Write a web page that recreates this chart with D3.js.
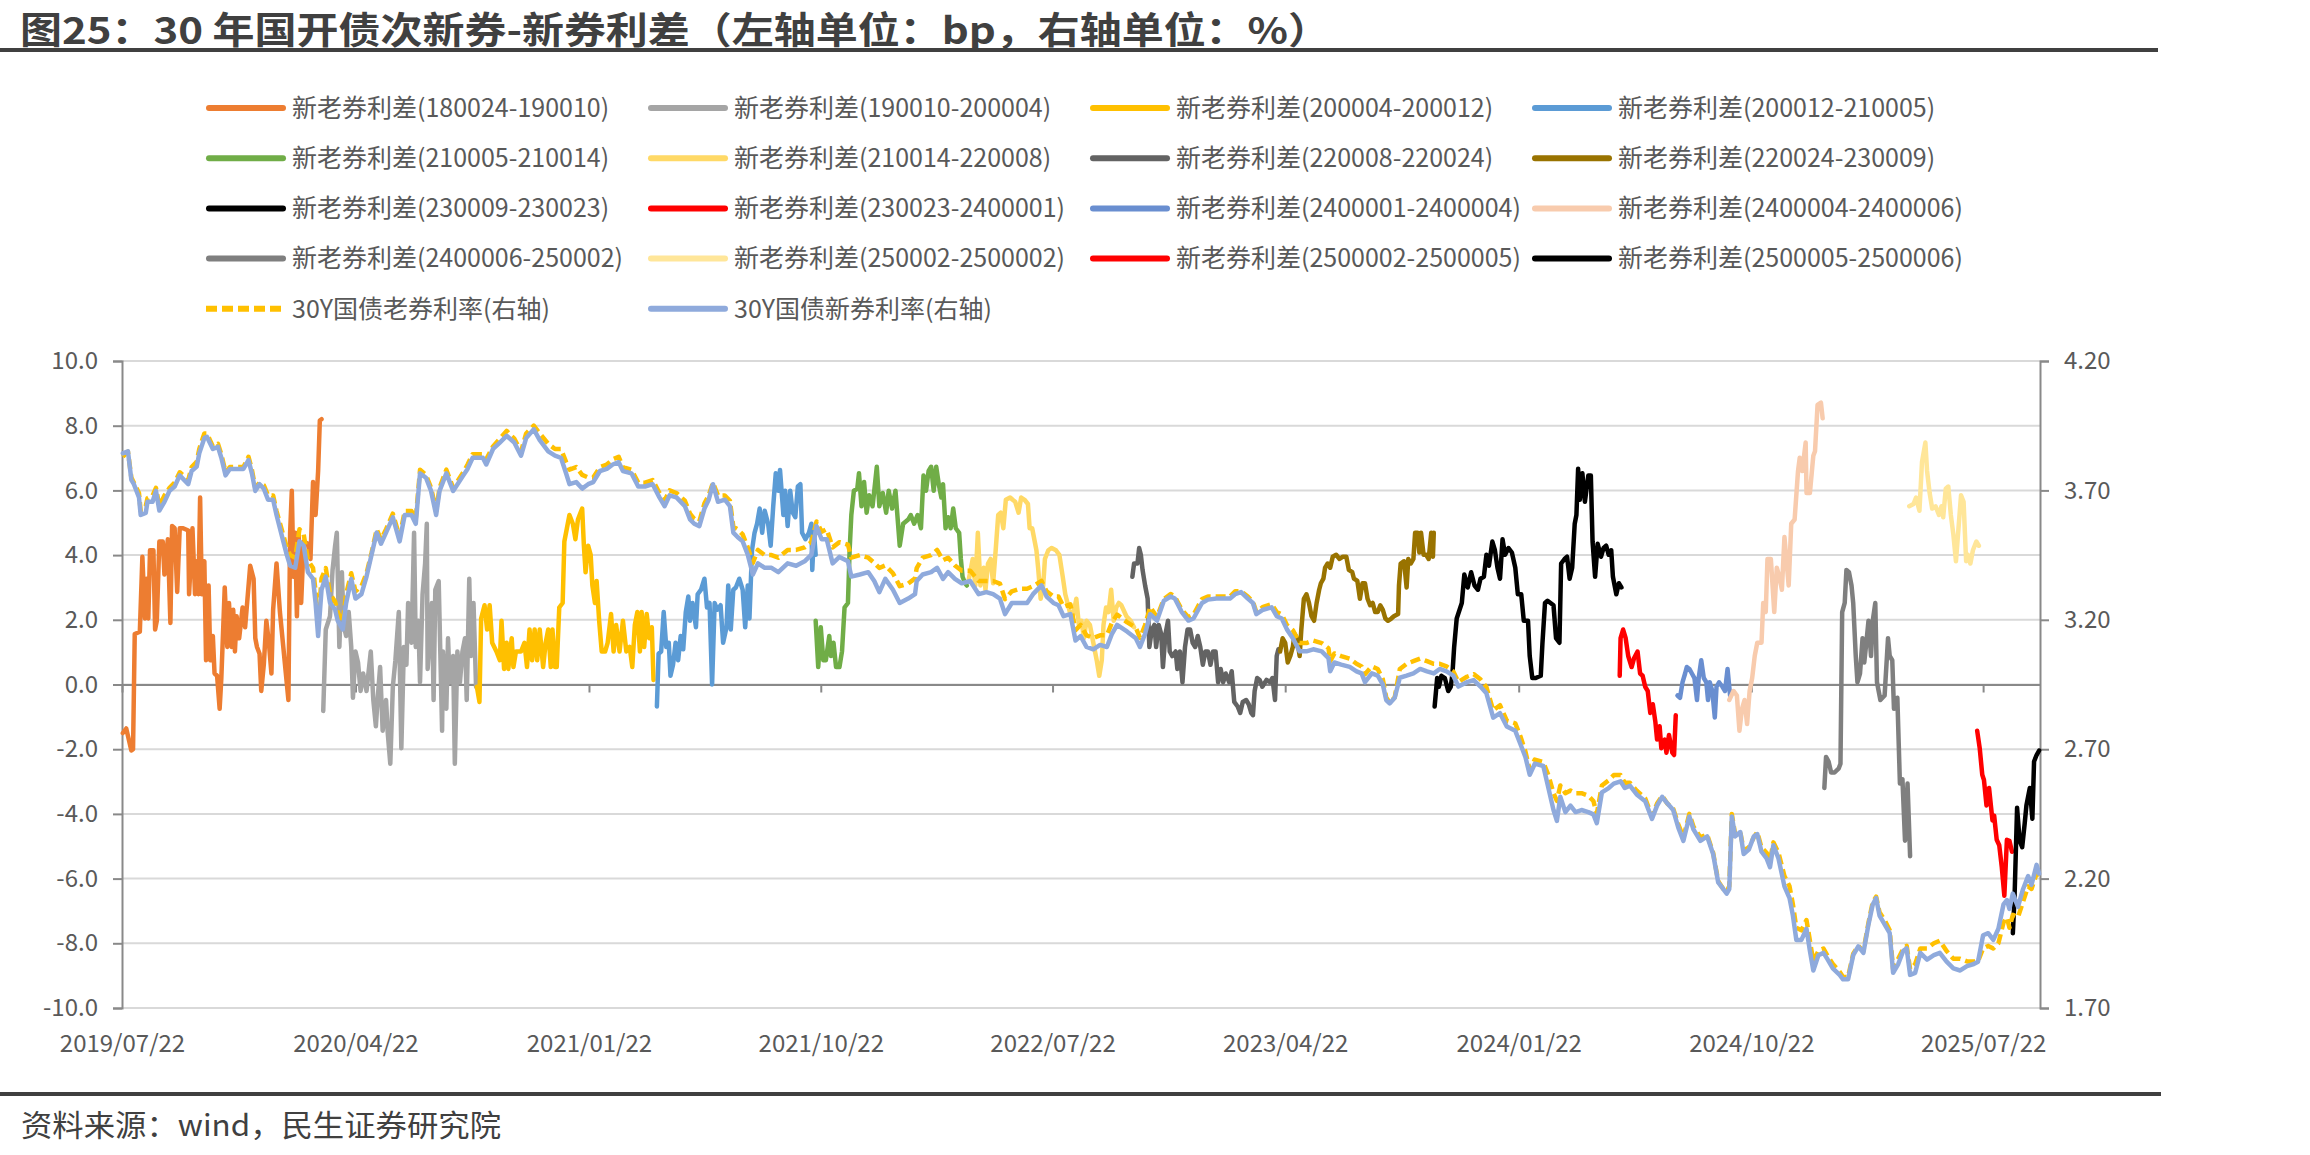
<!DOCTYPE html>
<html>
<head>
<meta charset="utf-8">
<script src="https://cdn.jsdelivr.net/npm/d3@7"></script>
<style>
  body { margin: 0; background: #fff; }
  text { font-family: "Noto Sans CJK SC", "Noto Sans", sans-serif; }
</style>
</head>
<body>
<svg id="chart" width="2310" height="1155"></svg>
<script>
// ---- data (left axis: bp, right axis: %) ----
const spread180024 = [['2019-07-23',-1.50],['2019-07-27',-1.36],['2019-08-02',-2.04],['2019-08-04',-2.00],['2019-08-06',1.56],['2019-08-12',1.63],['2019-08-15',3.95],['2019-08-18',2.04],['2019-08-20',3.27],['2019-08-22',2.04],['2019-08-24',4.15],['2019-08-28',4.15],['2019-08-30',1.70],['2019-09-01',1.97],['2019-09-04',4.42],['2019-09-08',4.42],['2019-09-10',3.40],['2019-09-14',4.49],['2019-09-17',1.90],['2019-09-19',4.90],['2019-09-22',4.83],['2019-09-25',2.86],['2019-09-28',4.83],['2019-10-02',4.83],['2019-10-08',4.76],['2019-10-09',2.79],['2019-10-13',4.83],['2019-10-16',2.79],['2019-10-18',3.81],['2019-10-20',2.79],['2019-10-22',5.78],['2019-10-24',2.79],['2019-10-27',3.81],['2019-10-29',0.75],['2019-11-01',3.06],['2019-11-03',0.75],['2019-11-06',1.50],['2019-11-08',0.34],['2019-11-11',0.27],['2019-11-14',-0.75],['2019-11-16',0.20],['2019-11-20',3.00],['2019-11-23',1.16],['2019-11-25',2.52],['2019-11-28',1.16],['2019-11-30',2.31],['2019-12-02',1.02],['2019-12-04',2.11],['2019-12-07',1.43],['2019-12-11',2.38],['2019-12-14',1.77],['2019-12-20',3.67],['2019-12-24',3.27],['2019-12-26',1.43],['2019-12-28',1.16],['2019-12-31',0.95],['2020-01-02',-0.20],['2020-01-05',0.61],['2020-01-08',1.97],['2020-01-11',1.29],['2020-01-14',0.34],['2020-01-16',2.31],['2020-01-20',3.74],['2020-01-24',2.24],['2020-02-03',-0.48],['2020-02-05',4.69],['2020-02-07',5.99],['2020-02-09',3.33],['2020-02-11',4.69],['2020-02-13',2.11],['2020-02-15',4.69],['2020-02-18',2.52],['2020-02-21',4.42],['2020-02-26',4.35],['2020-02-29',3.88],['2020-03-03',6.26],['2020-03-06',5.24],['2020-03-09',6.60],['2020-03-11',8.16],['2020-03-13',8.20]];

const spread190010 = [['2020-03-15',-0.82],['2020-03-18',1.70],['2020-03-23',2.11],['2020-03-26',3.54],['2020-03-29',4.29],['2020-03-31',4.69],['2020-04-03',1.16],['2020-04-06',3.47],['2020-04-08',1.84],['2020-04-11',1.50],['2020-04-14',2.24],['2020-04-17',1.16],['2020-04-19',-0.41],['2020-04-22',1.02],['2020-04-25',0.68],['2020-04-28',-0.20],['2020-05-01',0.34],['2020-05-05',-0.20],['2020-05-10',1.02],['2020-05-13',-0.48],['2020-05-16',-1.29],['2020-05-18',-0.48],['2020-05-21',0.54],['2020-05-24',-1.43],['2020-05-28',-0.48],['2020-05-30',-1.50],['2020-06-02',-2.45],['2020-06-05',-0.07],['2020-06-08',0.75],['2020-06-12',2.24],['2020-06-15',-1.97],['2020-06-18',1.16],['2020-06-21',0.61],['2020-06-23',2.52],['2020-06-27',1.29],['2020-06-30',4.69],['2020-07-02',1.16],['2020-07-05',1.97],['2020-07-07',0.07],['2020-07-10',2.79],['2020-07-13',3.74],['2020-07-15',4.97],['2020-07-16',0.48],['2020-07-21',2.52],['2020-07-23',-0.48],['2020-07-25',2.93],['2020-07-29',3.20],['2020-08-02',-1.43],['2020-08-03',1.02],['2020-08-07',-0.75],['2020-08-09',1.43],['2020-08-11',0.07],['2020-08-15',0.88],['2020-08-17',-2.45],['2020-08-20',1.02],['2020-08-23',0.07],['2020-08-26',1.02],['2020-08-29',1.43],['2020-08-31',-0.48],['2020-09-03',3.27],['2020-09-05',0.88],['2020-09-08',2.52],['2020-09-11',-0.07]];

const spread200004 = [['2020-09-12',-0.07],['2020-09-15',-0.54],['2020-09-17',2.04],['2020-09-21',2.45],['2020-09-24',1.70],['2020-09-27',2.45],['2020-09-30',1.29],['2020-10-05',1.02],['2020-10-09',0.75],['2020-10-11',1.97],['2020-10-14',0.48],['2020-10-17',1.29],['2020-10-19',0.48],['2020-10-23',1.43],['2020-10-25',0.54],['2020-10-28',1.02],['2020-11-03',1.02],['2020-11-07',1.29],['2020-11-10',0.54],['2020-11-13',1.70],['2020-11-16',0.75],['2020-11-19',1.70],['2020-11-22',0.75],['2020-11-25',1.70],['2020-11-29',0.54],['2020-12-02',1.29],['2020-12-05',1.70],['2020-12-08',0.54],['2020-12-10',1.70],['2020-12-13',0.54],['2020-12-15',0.54],['2020-12-18',2.38],['2020-12-22',2.52],['2020-12-24',4.42],['2020-12-27',4.83],['2020-12-30',5.24],['2021-01-03',4.97],['2021-01-06',4.49],['2021-01-09',5.10],['2021-01-12',5.31],['2021-01-14',5.44],['2021-01-16',4.29],['2021-01-18',3.47],['2021-01-21',4.29],['2021-01-24',4.01],['2021-01-26',3.06],['2021-01-29',2.52],['2021-01-31',3.20],['2021-02-03',1.97],['2021-02-06',1.02],['2021-02-10',1.02],['2021-02-13',1.29],['2021-02-17',2.18],['2021-02-20',1.02],['2021-02-23',1.84],['2021-02-27',1.02],['2021-03-03',1.97],['2021-03-07',1.02],['2021-03-11',1.16],['2021-03-14',0.54],['2021-03-17',1.84],['2021-03-20',2.24],['2021-03-23',1.02],['2021-03-25',2.24],['2021-03-28',1.16],['2021-03-31',2.18],['2021-04-03',1.43],['2021-04-06',1.77],['2021-04-08',0.14]];

const spread200012 = [['2021-04-12',-0.68],['2021-04-14',0.95],['2021-04-17',1.02],['2021-04-20',2.24],['2021-04-23',1.16],['2021-04-26',1.29],['2021-04-28',0.27],['2021-05-01',0.61],['2021-05-04',1.29],['2021-05-07',0.75],['2021-05-10',1.50],['2021-05-13',1.09],['2021-05-16',2.24],['2021-05-19',2.72],['2021-05-21',1.97],['2021-05-24',2.52],['2021-05-28',1.77],['2021-05-30',2.79],['2021-06-03',2.93],['2021-06-07',3.27],['2021-06-10',2.38],['2021-06-13',2.52],['2021-06-16',0.00],['2021-06-19',2.52],['2021-06-22',2.31],['2021-06-26',2.45],['2021-06-29',1.29],['2021-07-03',1.77],['2021-07-05',3.06],['2021-07-08',1.70],['2021-07-11',2.93],['2021-07-14',3.00],['2021-07-18',3.27],['2021-07-22',2.93],['2021-07-25',1.77],['2021-07-28',3.06],['2021-07-30',2.04],['2021-08-02',4.15],['2021-08-05',4.69],['2021-08-08',4.97],['2021-08-11',5.44],['2021-08-14',4.69],['2021-08-17',5.37],['2021-08-21',4.97],['2021-08-24',4.29],['2021-08-27',5.51],['2021-08-30',6.53],['2021-09-02',5.99],['2021-09-04',6.63],['2021-09-08',5.24],['2021-09-10',5.99],['2021-09-13',4.90],['2021-09-16',5.99],['2021-09-19',5.31],['2021-09-22',5.17],['2021-09-25',6.12],['2021-09-28',6.19],['2021-09-30',4.69],['2021-10-04',4.49],['2021-10-08',4.69],['2021-10-11',4.97],['2021-10-12',3.54],['2021-10-14',4.69],['2021-10-16',4.01]];

const spread210005 = [['2021-10-16',1.97],['2021-10-19',0.54],['2021-10-22',1.77],['2021-10-25',0.75],['2021-10-28',0.75],['2021-11-01',1.50],['2021-11-03',0.88],['2021-11-06',1.29],['2021-11-09',0.54],['2021-11-13',0.54],['2021-11-16',1.02],['2021-11-19',2.38],['2021-11-23',2.52],['2021-11-25',4.15],['2021-11-27',5.24],['2021-11-30',5.99],['2021-12-04',6.05],['2021-12-06',6.53],['2021-12-09',5.51],['2021-12-12',6.26],['2021-12-15',5.31],['2021-12-18',5.85],['2021-12-22',5.51],['2021-12-24',5.99],['2021-12-27',6.73],['2021-12-30',5.51],['2022-01-03',5.92],['2022-01-07',5.31],['2022-01-10',5.99],['2022-01-14',5.44],['2022-01-18',5.99],['2022-01-20',5.31],['2022-01-23',4.29],['2022-01-27',4.97],['2022-02-02',5.10],['2022-02-05',5.24],['2022-02-09',4.97],['2022-02-13',5.24],['2022-02-17',4.83],['2022-02-20',6.46],['2022-02-23',5.99],['2022-02-26',6.60],['2022-03-01',6.73],['2022-03-04',5.99],['2022-03-07',6.73],['2022-03-10',6.19],['2022-03-13',5.78],['2022-03-15',6.19],['2022-03-18',4.83],['2022-03-21',5.17],['2022-03-24',4.83],['2022-03-27',5.44],['2022-03-30',4.83],['2022-04-03',4.69],['2022-04-05',3.88],['2022-04-07',3.33],['2022-04-10',3.13],['2022-04-12',3.06]];

const spread210014 = [['2022-04-14',3.20],['2022-04-19',3.88],['2022-04-22',3.06],['2022-04-25',4.69],['2022-04-28',3.06],['2022-05-02',3.61],['2022-05-04',2.93],['2022-05-07',3.74],['2022-05-10',3.88],['2022-05-13',3.13],['2022-05-16',4.15],['2022-05-19',5.24],['2022-05-22',5.31],['2022-05-25',4.83],['2022-05-28',5.71],['2022-06-02',5.78],['2022-06-05',5.71],['2022-06-08',5.65],['2022-06-12',5.31],['2022-06-15',5.78],['2022-06-19',5.71],['2022-06-23',5.58],['2022-06-25',4.83],['2022-06-28',4.83],['2022-07-03',4.15],['2022-07-05',3.61],['2022-07-08',2.65],['2022-07-11',3.06],['2022-07-13',3.88],['2022-07-17',4.15],['2022-07-21',4.22],['2022-07-26',4.15],['2022-07-30',4.01],['2022-08-03',3.33],['2022-08-06',2.79],['2022-08-10',2.38],['2022-08-14',1.97],['2022-08-19',2.65],['2022-08-22',1.84],['2022-08-25',1.97],['2022-08-28',1.43],['2022-08-31',1.97],['2022-09-04',1.84],['2022-09-08',1.29],['2022-09-12',0.75],['2022-09-15',0.27],['2022-09-18',0.75],['2022-09-20',1.84],['2022-09-23',2.38],['2022-09-26',2.24],['2022-09-29',2.93],['2022-10-02',1.97],['2022-10-05',2.38],['2022-10-08',2.52],['2022-10-11',2.45],['2022-10-17',2.11],['2022-10-22',1.97],['2022-10-26',1.77]];

const spread220008 = [['2022-10-24',3.33],['2022-10-26',3.74],['2022-10-30',3.74],['2022-11-01',4.22],['2022-11-03',4.01],['2022-11-05',3.54],['2022-11-08',3.06],['2022-11-11',2.65],['2022-11-13',1.16],['2022-11-16',1.70],['2022-11-19',1.84],['2022-11-21',1.16],['2022-11-24',1.84],['2022-11-27',1.56],['2022-11-29',0.54],['2022-12-02',1.56],['2022-12-05',1.97],['2022-12-07',1.02],['2022-12-10',0.88],['2022-12-14',1.02],['2022-12-16',0.48],['2022-12-19',1.02],['2022-12-22',0.07],['2022-12-25',1.16],['2022-12-28',1.70],['2022-12-31',1.70],['2023-01-03',1.29],['2023-01-06',1.16],['2023-01-09',1.50],['2023-01-12',1.16],['2023-01-15',0.61],['2023-01-18',1.02],['2023-01-21',1.02],['2023-01-24',0.61],['2023-01-27',1.02],['2023-01-30',1.02],['2023-02-02',0.07],['2023-02-05',0.48],['2023-02-08',0.07],['2023-02-11',0.34],['2023-02-15',0.07],['2023-02-18',0.41],['2023-02-21',-0.54],['2023-02-25',-0.68],['2023-02-28',-0.88],['2023-03-03',-0.54],['2023-03-07',-0.48],['2023-03-10',-0.61],['2023-03-13',-0.88],['2023-03-15',-0.95],['2023-03-17',-0.20],['2023-03-20',0.20],['2023-03-23',0.14],['2023-03-26',-0.07],['2023-03-31',0.14],['2023-04-04',0.07],['2023-04-07',0.20],['2023-04-10',-0.48],['2023-04-12',0.88],['2023-04-14',1.09]];

const spread220024 = [['2023-04-16',1.02],['2023-04-19',1.43],['2023-04-22',1.29],['2023-04-25',0.68],['2023-04-28',0.88],['2023-05-01',1.16],['2023-05-03',1.56],['2023-05-06',1.43],['2023-05-09',0.88],['2023-05-11',1.70],['2023-05-14',2.65],['2023-05-17',2.79],['2023-05-20',2.52],['2023-05-23',2.11],['2023-05-26',1.97],['2023-05-29',2.52],['2023-06-01',2.93],['2023-06-03',3.13],['2023-06-06',3.27],['2023-06-08',3.61],['2023-06-11',3.74],['2023-06-14',3.61],['2023-06-17',3.95],['2023-06-21',4.01],['2023-06-25',3.88],['2023-06-29',3.95],['2023-07-03',3.95],['2023-07-06',3.54],['2023-07-10',3.47],['2023-07-12',3.27],['2023-07-16',3.20],['2023-07-19',2.65],['2023-07-22',3.13],['2023-07-25',3.13],['2023-07-28',2.65],['2023-07-31',2.45],['2023-08-03',2.52],['2023-08-06',2.24],['2023-08-09',2.24],['2023-08-12',2.45],['2023-08-15',2.31],['2023-08-18',2.04],['2023-08-21',1.97],['2023-08-25',2.04],['2023-08-28',2.11],['2023-09-02',2.18],['2023-09-03',3.06],['2023-09-05',3.74],['2023-09-09',3.81],['2023-09-12',3.00],['2023-09-14',3.88],['2023-09-17',3.74],['2023-09-20',3.88],['2023-09-22',4.69],['2023-09-25',4.69],['2023-09-27',4.08],['2023-09-29',4.69],['2023-10-02',4.01],['2023-10-05',4.01],['2023-10-08',3.88],['2023-10-11',4.69],['2023-10-13',3.95],['2023-10-14',4.69]];

const spread230009 = [['2023-10-15',-0.68],['2023-10-18',0.20],['2023-10-20',-0.07],['2023-10-23',0.27],['2023-10-27',0.20],['2023-10-31',-0.20],['2023-11-03',-0.07],['2023-11-05',0.34],['2023-11-07',1.16],['2023-11-10',2.04],['2023-11-16',2.52],['2023-11-19',3.40],['2023-11-23',3.00],['2023-11-27',3.47],['2023-12-01',3.06],['2023-12-05',2.93],['2023-12-08',3.27],['2023-12-12',3.33],['2023-12-15',4.01],['2023-12-18',3.67],['2023-12-22',4.42],['2023-12-25',4.15],['2023-12-28',3.61],['2023-12-31',3.27],['2024-01-03',4.49],['2024-01-06',4.01],['2024-01-10',4.22],['2024-01-14',4.08],['2024-01-18',3.61],['2024-01-21',2.79],['2024-01-25',2.79],['2024-01-28',1.97],['2024-02-02',1.97],['2024-02-04',0.88],['2024-02-07',0.20],['2024-02-11',0.20],['2024-02-17',0.27],['2024-02-19',1.29],['2024-02-22',2.52],['2024-02-25',2.59],['2024-03-03',2.45],['2024-03-06',1.43],['2024-03-10',1.29],['2024-03-12',3.74],['2024-03-16',3.88],['2024-03-19',3.95],['2024-03-22',3.27],['2024-03-25',3.61],['2024-03-28',4.97],['2024-03-30',5.24],['2024-04-01',6.67],['2024-04-03',5.71],['2024-04-06',6.53],['2024-04-09',5.65],['2024-04-13',6.46],['2024-04-16',6.46],['2024-04-18',4.42],['2024-04-21',3.33],['2024-04-24',4.35],['2024-04-28',3.95],['2024-05-01',4.22],['2024-05-04',4.29],['2024-05-07',4.01],['2024-05-10',4.15],['2024-05-12',3.33],['2024-05-16',2.79],['2024-05-19',3.13],['2024-05-22',3.00]];

const spread230023 = [['2024-05-20',0.27],['2024-05-21',1.43],['2024-05-24',1.70],['2024-05-27',1.43],['2024-05-30',0.88],['2024-06-03',0.54],['2024-06-06',0.82],['2024-06-10',1.02],['2024-06-13',0.34],['2024-06-16',0.27],['2024-06-19',-0.07],['2024-06-22',-0.20],['2024-06-25',-0.88],['2024-06-28',-0.61],['2024-07-01',-1.16],['2024-07-03',-1.70],['2024-07-06',-1.29],['2024-07-08',-1.97],['2024-07-12',-1.70],['2024-07-14',-2.11],['2024-07-17',-1.56],['2024-07-21',-2.11],['2024-07-23',-2.18],['2024-07-25',-0.95]];

const spread2400001 = [['2024-07-27',-0.34],['2024-07-30',-0.41],['2024-08-02',0.07],['2024-08-05',0.34],['2024-08-07',0.54],['2024-08-10',0.48],['2024-08-13',0.34],['2024-08-16',0.20],['2024-08-19',-0.48],['2024-08-21',0.20],['2024-08-24',0.75],['2024-08-27',0.20],['2024-08-30',0.07],['2024-09-01',-0.48],['2024-09-03',0.07],['2024-09-06',-0.20],['2024-09-09',-1.02],['2024-09-11',-0.07],['2024-09-14',0.07],['2024-09-18',-0.07],['2024-09-21',-0.20],['2024-09-24',0.48],['2024-09-27',-0.34]];

const spread2400004 = [['2024-09-26',-0.48],['2024-10-01',-0.20],['2024-10-05',-0.34],['2024-10-08',-1.43],['2024-10-11',-0.75],['2024-10-14',-0.48],['2024-10-17',-1.22],['2024-10-20',-0.20],['2024-10-23',0.20],['2024-10-26',0.88],['2024-10-29',1.29],['2024-11-03',1.29],['2024-11-05',2.52],['2024-11-08',2.24],['2024-11-10',3.88],['2024-11-14',3.88],['2024-11-18',2.24],['2024-11-21',3.61],['2024-11-24',3.33],['2024-11-27',2.93],['2024-11-30',4.56],['2024-12-05',3.06],['2024-12-08',4.97],['2024-12-12',5.10],['2024-12-16',6.60],['2024-12-18',7.01],['2024-12-21',6.60],['2024-12-25',7.48],['2024-12-26',5.92],['2024-12-30',5.92],['2025-01-03',7.07],['2025-01-05',7.21],['2025-01-08',8.64],['2025-01-12',8.71],['2025-01-14',8.23]];

const spread2400006 = [['2025-01-16',-3.20],['2025-01-18',-2.24],['2025-01-21',-2.38],['2025-01-24',-2.72],['2025-01-28',-2.72],['2025-02-02',-2.59],['2025-02-04',-2.45],['2025-02-06',2.24],['2025-02-09',2.52],['2025-02-11',3.54],['2025-02-14',3.47],['2025-02-17',3.06],['2025-02-19',2.52],['2025-02-22',0.88],['2025-02-24',0.07],['2025-02-27',0.34],['2025-03-02',1.43],['2025-03-04',0.68],['2025-03-07',1.43],['2025-03-09',1.97],['2025-03-12',0.88],['2025-03-14',1.97],['2025-03-17',2.52],['2025-03-19',0.07],['2025-03-23',-0.48],['2025-03-28',-0.34],['2025-04-01',1.43],['2025-04-03',0.88],['2025-04-06',0.75],['2025-04-08',-0.75],['2025-04-12',-0.41],['2025-04-15',-3.06],['2025-04-18',-2.93],['2025-04-21',-4.83],['2025-04-24',-3.06],['2025-04-27',-5.31]];

const spread250002 = [['2025-04-26',5.51],['2025-05-01',5.58],['2025-05-04',5.78],['2025-05-08',5.37],['2025-05-11',6.87],['2025-05-15',7.48],['2025-05-17',6.60],['2025-05-20',5.92],['2025-05-23',5.44],['2025-05-27',5.51],['2025-05-31',5.24],['2025-06-03',5.51],['2025-06-05',5.17],['2025-06-08',6.05],['2025-06-11',6.12],['2025-06-14',5.24],['2025-06-17',4.63],['2025-06-20',3.81],['2025-06-23',4.83],['2025-06-26',5.85],['2025-06-29',5.65],['2025-07-02',3.81],['2025-07-04',4.01],['2025-07-07',3.74],['2025-07-10',4.15],['2025-07-14',4.42],['2025-07-17',4.29]];

const spread2500002 = [['2025-07-15',-1.43],['2025-07-18',-1.97],['2025-07-21',-2.79],['2025-07-23',-2.95],['2025-07-26',-3.74],['2025-07-29',-3.20],['2025-08-02',-4.20],['2025-08-04',-4.05],['2025-08-07',-4.80],['2025-08-10',-4.97],['2025-08-13',-5.65],['2025-08-16',-6.53],['2025-08-19',-4.80],['2025-08-22',-4.83],['2025-08-25',-5.17]];

const spread2500005 = [['2025-08-26',-7.69],['2025-08-28',-6.60],['2025-08-31',-3.81],['2025-09-03',-4.83],['2025-09-06',-5.03],['2025-09-09',-4.29],['2025-09-11',-3.74],['2025-09-15',-3.20],['2025-09-18',-4.15],['2025-09-20',-2.38],['2025-09-23',-2.18],['2025-09-26',-2.04]];

// [date, 30Y new bond yield %, 30Y old bond yield %]
const yieldRows = [['2019-07-23',3.843,3.83],['2019-07-29',3.851,3.85],['2019-08-02',3.741,3.75],['2019-08-05',3.724,3.73],['2019-08-11',3.673,3.69],['2019-08-13',3.605,3.62],['2019-08-19',3.613,3.64],['2019-08-21',3.656,3.67],['2019-08-27',3.656,3.68],['2019-08-31',3.698,3.71],['2019-09-04',3.622,3.64],['2019-09-10',3.656,3.68],['2019-09-16',3.698,3.71],['2019-09-22',3.715,3.73],['2019-09-28',3.758,3.77],['2019-10-08',3.724,3.74],['2019-10-12',3.775,3.79],['2019-10-18',3.792,3.81],['2019-10-21',3.843,3.86],['2019-10-27',3.902,3.92],['2019-10-30',3.907,3.92],['2019-11-06',3.860,3.87],['2019-11-12',3.868,3.88],['2019-11-16',3.826,3.84],['2019-11-21',3.758,3.77],['2019-11-26',3.783,3.79],['2019-12-04',3.783,3.79],['2019-12-12',3.783,3.79],['2019-12-18',3.817,3.83],['2019-12-22',3.766,3.78],['2019-12-26',3.698,3.71],['2019-12-31',3.724,3.73],['2020-01-05',3.707,3.72],['2020-01-10',3.664,3.68],['2020-01-16',3.664,3.68],['2020-01-20',3.605,3.62],['2020-01-26',3.528,3.55],['2020-02-01',3.452,3.48],['2020-02-05',3.409,3.45],['2020-02-11',3.401,3.44],['2020-02-16',3.503,3.55],['2020-02-21',3.486,3.53],['2020-02-26',3.384,3.43],['2020-03-03',3.358,3.40],['2020-03-06',3.265,3.31],['2020-03-09',3.137,3.18],['2020-03-13',3.316,3.36],['2020-03-18',3.367,3.40],['2020-03-23',3.265,3.30],['2020-03-29',3.239,3.27],['2020-04-01',3.197,3.23],['2020-04-07',3.163,3.19],['2020-04-11',3.265,3.30],['2020-04-17',3.358,3.38],['2020-04-22',3.282,3.31],['2020-04-29',3.299,3.33],['2020-05-05',3.367,3.38],['2020-05-11',3.452,3.46],['2020-05-17',3.537,3.55],['2020-05-22',3.494,3.51],['2020-05-28',3.537,3.55],['2020-06-05',3.596,3.61],['2020-06-13',3.503,3.52],['2020-06-19',3.605,3.62],['2020-06-27',3.605,3.62],['2020-07-02',3.571,3.59],['2020-07-07',3.766,3.78],['2020-07-14',3.749,3.76],['2020-07-20',3.698,3.71],['2020-07-26',3.605,3.62],['2020-07-30',3.698,3.71],['2020-08-07',3.766,3.78],['2020-08-15',3.698,3.71],['2020-08-27',3.758,3.77],['2020-09-01',3.783,3.80],['2020-09-07',3.826,3.84],['2020-09-19',3.826,3.84],['2020-09-23',3.800,3.82],['2020-10-01',3.860,3.87],['2020-10-09',3.885,3.90],['2020-10-17',3.911,3.93],['2020-10-26',3.885,3.90],['2020-11-03',3.834,3.85],['2020-11-09',3.902,3.92],['2020-11-18',3.936,3.95],['2020-11-25',3.894,3.92],['2020-12-05',3.851,3.88],['2020-12-13',3.834,3.86],['2020-12-20',3.826,3.86],['2020-12-26',3.766,3.81],['2020-12-30',3.724,3.78],['2021-01-07',3.732,3.79],['2021-01-14',3.707,3.76],['2021-01-21',3.724,3.75],['2021-01-27',3.732,3.75],['2021-02-04',3.775,3.79],['2021-02-12',3.783,3.80],['2021-02-19',3.800,3.82],['2021-02-26',3.809,3.83],['2021-03-03',3.775,3.79],['2021-03-13',3.766,3.78],['2021-03-21',3.715,3.73],['2021-03-29',3.715,3.73],['2021-04-07',3.724,3.74],['2021-04-15',3.673,3.69],['2021-04-21',3.639,3.66],['2021-04-27',3.681,3.70],['2021-05-05',3.673,3.69],['2021-05-15',3.639,3.66],['2021-05-21',3.588,3.61],['2021-05-26',3.571,3.59],['2021-06-01',3.562,3.58],['2021-06-07',3.630,3.65],['2021-06-12',3.664,3.68],['2021-06-17',3.724,3.73],['2021-06-23',3.656,3.68],['2021-07-01',3.664,3.68],['2021-07-07',3.639,3.66],['2021-07-11',3.537,3.56],['2021-07-16',3.520,3.55],['2021-07-22',3.503,3.53],['2021-07-28',3.452,3.48],['2021-08-03',3.375,3.42],['2021-08-09',3.418,3.47],['2021-08-17',3.401,3.45],['2021-08-25',3.401,3.45],['2021-09-02',3.384,3.44],['2021-09-13',3.418,3.47],['2021-09-23',3.409,3.47],['2021-10-03',3.426,3.48],['2021-10-11',3.452,3.50],['2021-10-17',3.562,3.58],['2021-10-23',3.511,3.54],['2021-10-29',3.511,3.55],['2021-11-05',3.418,3.48],['2021-11-13',3.443,3.50],['2021-11-23',3.426,3.49],['2021-11-27',3.367,3.44],['2021-12-07',3.375,3.45],['2021-12-17',3.384,3.44],['2021-12-24',3.350,3.42],['2021-12-30',3.307,3.40],['2022-01-06',3.358,3.41],['2022-01-15',3.316,3.38],['2022-01-23',3.265,3.33],['2022-02-02',3.282,3.34],['2022-02-10',3.299,3.36],['2022-02-12',3.350,3.40],['2022-02-19',3.375,3.44],['2022-03-01',3.384,3.45],['2022-03-08',3.401,3.47],['2022-03-15',3.358,3.43],['2022-03-21',3.384,3.44],['2022-03-29',3.358,3.41],['2022-04-06',3.341,3.39],['2022-04-16',3.350,3.39],['2022-04-26',3.299,3.35],['2022-05-05',3.307,3.35],['2022-05-13',3.299,3.35],['2022-05-21',3.282,3.34],['2022-05-27',3.222,3.28],['2022-06-04',3.265,3.31],['2022-06-14',3.265,3.32],['2022-06-22',3.265,3.32],['2022-06-29',3.299,3.33],['2022-07-09',3.333,3.35],['2022-07-15',3.290,3.31],['2022-07-23',3.265,3.29],['2022-07-29',3.256,3.29],['2022-08-04',3.214,3.25],['2022-08-12',3.222,3.26],['2022-08-18',3.120,3.16],['2022-08-24',3.137,3.18],['2022-08-31',3.095,3.14],['2022-09-08',3.086,3.13],['2022-09-16',3.103,3.14],['2022-09-24',3.095,3.14],['2022-09-30',3.146,3.19],['2022-10-06',3.180,3.22],['2022-10-18',3.154,3.19],['2022-10-28',3.129,3.17],['2022-11-02',3.095,3.13],['2022-11-08',3.146,3.18],['2022-11-14',3.222,3.25],['2022-11-22',3.197,3.21],['2022-11-30',3.273,3.28],['2022-12-08',3.290,3.30],['2022-12-13',3.282,3.29],['2022-12-21',3.231,3.24],['2022-12-29',3.197,3.21],['2023-01-04',3.205,3.22],['2023-01-14',3.265,3.28],['2023-01-21',3.278,3.29],['2023-01-31',3.282,3.29],['2023-02-08',3.282,3.29],['2023-02-16',3.282,3.29],['2023-02-22',3.299,3.31],['2023-03-01',3.307,3.31],['2023-03-09',3.282,3.29],['2023-03-15',3.265,3.27],['2023-03-19',3.222,3.23],['2023-03-27',3.239,3.25],['2023-04-06',3.248,3.26],['2023-04-12',3.214,3.23],['2023-04-18',3.205,3.22],['2023-04-24',3.163,3.18],['2023-05-01',3.129,3.16],['2023-05-09',3.078,3.11],['2023-05-17',3.078,3.11],['2023-05-25',3.086,3.12],['2023-06-04',3.078,3.11],['2023-06-12',3.052,3.09],['2023-06-14',3.001,3.04],['2023-06-19',3.035,3.07],['2023-06-27',3.027,3.06],['2023-07-07',3.018,3.05],['2023-07-15',3.001,3.03],['2023-07-21',2.993,3.02],['2023-07-25',2.959,2.99],['2023-08-02',2.993,3.02],['2023-08-09',2.984,3.01],['2023-08-15',2.950,2.97],['2023-08-19',2.890,2.90],['2023-08-23',2.877,2.88],['2023-08-29',2.899,2.90],['2023-09-04',2.976,3.01],['2023-09-12',2.984,3.03],['2023-09-20',2.993,3.04],['2023-09-28',3.010,3.05],['2023-10-06',3.001,3.04],['2023-10-14',2.993,3.03],['2023-10-21',3.010,3.03],['2023-10-29',3.001,3.02],['2023-11-06',2.984,3.00],['2023-11-12',2.942,2.96],['2023-11-22',2.959,2.98],['2023-11-30',2.967,2.99],['2023-12-08',2.942,2.97],['2023-12-15',2.916,2.94],['2023-12-23',2.822,2.85],['2023-12-31',2.839,2.87],['2024-01-08',2.788,2.81],['2024-01-18',2.771,2.80],['2024-01-24',2.720,2.75],['2024-01-30',2.669,2.69],['2024-02-04',2.601,2.62],['2024-02-10',2.644,2.66],['2024-02-20',2.635,2.65],['2024-02-26',2.550,2.60],['2024-03-03',2.465,2.53],['2024-03-07',2.423,2.50],['2024-03-11',2.516,2.56],['2024-03-17',2.457,2.53],['2024-03-23',2.482,2.54],['2024-03-29',2.457,2.53],['2024-04-05',2.465,2.53],['2024-04-13',2.457,2.52],['2024-04-19',2.448,2.50],['2024-04-23',2.414,2.45],['2024-04-29',2.533,2.56],['2024-05-07',2.550,2.58],['2024-05-13',2.567,2.60],['2024-05-21',2.576,2.60],['2024-05-26',2.550,2.57],['2024-06-01',2.559,2.57],['2024-06-09',2.525,2.54],['2024-06-19',2.499,2.51],['2024-06-27',2.431,2.44],['2024-07-03',2.482,2.49],['2024-07-09',2.516,2.52],['2024-07-15',2.491,2.49],['2024-07-22',2.465,2.47],['2024-07-28',2.397,2.41],['2024-08-03',2.346,2.36],['2024-08-10',2.440,2.45],['2024-08-15',2.389,2.40],['2024-08-23',2.346,2.36],['2024-08-31',2.363,2.37],['2024-09-07',2.295,2.30],['2024-09-13',2.185,2.19],['2024-09-19',2.159,2.16],['2024-09-23',2.142,2.15],['2024-09-26',2.159,2.17],['2024-09-29',2.440,2.45],['2024-10-03',2.363,2.37],['2024-10-09',2.380,2.38],['2024-10-13',2.295,2.31],['2024-10-19',2.312,2.32],['2024-10-25',2.363,2.36],['2024-10-29',2.372,2.38],['2024-11-03',2.304,2.32],['2024-11-09',2.278,2.30],['2024-11-13',2.244,2.27],['2024-11-17',2.329,2.34],['2024-11-23',2.278,2.30],['2024-11-30',2.170,2.21],['2024-12-06',2.125,2.17],['2024-12-10',2.057,2.10],['2024-12-14',1.963,2.01],['2024-12-20',1.963,2.00],['2024-12-26',2.006,2.04],['2024-12-30',1.921,1.96],['2025-01-03',1.845,1.88],['2025-01-09',1.904,1.92],['2025-01-15',1.913,1.93],['2025-01-20',1.887,1.90],['2025-01-26',1.853,1.87],['2025-02-03',1.828,1.84],['2025-02-07',1.811,1.82],['2025-02-13',1.811,1.82],['2025-02-19',1.904,1.91],['2025-02-25',1.938,1.94],['2025-03-03',1.913,1.92],['2025-03-09',2.023,2.03],['2025-03-14',2.100,2.11],['2025-03-18',2.125,2.13],['2025-03-22',2.057,2.07],['2025-03-28',2.023,2.04],['2025-04-03',1.989,2.00],['2025-04-07',1.836,1.85],['2025-04-13',1.870,1.89],['2025-04-19',1.921,1.93],['2025-04-23',1.930,1.94],['2025-04-27',1.828,1.85],['2025-05-03',1.836,1.87],['2025-05-09',1.913,1.93],['2025-05-17',1.887,1.93],['2025-05-25',1.904,1.95],['2025-06-01',1.913,1.96],['2025-06-09',1.879,1.92],['2025-06-17',1.853,1.89],['2025-06-25',1.845,1.89],['2025-07-03',1.862,1.88],['2025-07-11',1.870,1.88],['2025-07-16',1.879,1.88],['2025-07-22',1.981,1.93],['2025-07-28',1.989,1.94],['2025-08-03',1.963,1.93],['2025-08-09',2.006,1.95],['2025-08-15',2.100,2.03],['2025-08-19',2.117,2.05],['2025-08-22',2.083,2.01],['2025-08-26',2.142,2.06],['2025-09-01',2.091,2.05],['2025-09-07',2.159,2.11],['2025-09-13',2.210,2.17],['2025-09-17',2.176,2.16],['2025-09-23',2.253,2.22],['2025-09-26',2.219,2.21]];

const xTickDates = ['2019-07-22','2020-04-22','2021-01-22','2021-10-22','2022-07-22','2023-04-22','2024-01-22','2024-10-22','2025-07-22'];
const leftTicks = [-10, -8, -6, -4, -2, 0, 2, 4, 6, 8, 10];
const rightTicks = [1.7, 2.2, 2.7, 3.2, 3.7, 4.2];

const titleText = '图25：30 年国开债次新券-新券利差（左轴单位：bp，右轴单位：%）';
const sourceText = '资料来源：wind，民生证券研究院';

// ---- series table ----
const spreadSeries = [
  { name: '新老券利差(180024-190010)', color: '#ed7d31', data: spread180024 },
  { name: '新老券利差(190010-200004)', color: '#a5a5a5', data: spread190010 },
  { name: '新老券利差(200004-200012)', color: '#ffc000', data: spread200004 },
  { name: '新老券利差(200012-210005)', color: '#5b9bd5', data: spread200012 },
  { name: '新老券利差(210005-210014)', color: '#70ad47', data: spread210005 },
  { name: '新老券利差(210014-220008)', color: '#ffd966', data: spread210014 },
  { name: '新老券利差(220008-220024)', color: '#636363', data: spread220008 },
  { name: '新老券利差(220024-230009)', color: '#997300', data: spread220024 },
  { name: '新老券利差(230009-230023)', color: '#000000', data: spread230009 },
  { name: '新老券利差(230023-2400001)', color: '#ff0000', data: spread230023 },
  { name: '新老券利差(2400001-2400004)', color: '#698ed0', data: spread2400001 },
  { name: '新老券利差(2400004-2400006)', color: '#f8cbad', data: spread2400004 },
  { name: '新老券利差(2400006-250002)', color: '#7f7f7f', data: spread2400006 },
  { name: '新老券利差(250002-2500002)', color: '#ffe699', data: spread250002 },
  { name: '新老券利差(2500002-2500005)', color: '#ff0000', data: spread2500002 },
  { name: '新老券利差(2500005-2500006)', color: '#000000', data: spread2500005 }
];
const oldYieldName = '30Y国债老券利率(右轴)';
const newYieldName = '30Y国债新券利率(右轴)';
const oldYieldColor = '#ffc000';
const newYieldColor = '#8faadc';

// ---- layout ----
const svg = d3.select('#chart');
const plot = { left: 122, right: 2040, top: 361, bottom: 1008 };
const textColor = '#595959';
const parse = d3.timeParse('%Y-%m-%d');

const x = d3.scaleTime()
  .domain([parse('2019-07-22'), parse('2025-09-27')])
  .range([plot.left, plot.right]);
const yLeft = d3.scaleLinear().domain([-10, 10]).range([plot.bottom, plot.top]);
const yRight = d3.scaleLinear().domain([1.7, 4.2]).range([plot.bottom, plot.top]);

// title + rules
const title = svg.append('text')
  .attr('x', 20).attr('y', 44)
  .attr('font-size', 37).attr('font-weight', 'bold')
  .attr('fill', '#404040')
  .text(titleText);
fitText(title, 1310);

svg.append('rect').attr('x', 0).attr('y', 48).attr('width', 2158).attr('height', 4).attr('fill', '#404040');
svg.append('rect').attr('x', 0).attr('y', 1092).attr('width', 2161).attr('height', 4).attr('fill', '#404040');

const source = svg.append('text')
  .attr('x', 21).attr('y', 1136)
  .attr('font-size', 30)
  .attr('fill', '#404040')
  .text(sourceText);
fitText(source, 480);

// gridlines
svg.append('g')
  .selectAll('line')
  .data(leftTicks)
  .join('line')
  .attr('x1', plot.left).attr('x2', plot.right)
  .attr('y1', d => yLeft(d)).attr('y2', d => yLeft(d))
  .attr('stroke', '#d9d9d9').attr('stroke-width', 2);

// left axis
const leftAxis = svg.append('g')
  .attr('transform', `translate(${plot.left},0)`)
  .call(d3.axisLeft(yLeft).tickValues(leftTicks).tickFormat(d => d.toFixed(1)).tickSize(9).tickPadding(15));
styleAxis(leftAxis);

// right axis
const rightAxis = svg.append('g')
  .attr('transform', `translate(${plot.right},0)`)
  .call(d3.axisRight(yRight).tickValues(rightTicks).tickFormat(d => d.toFixed(2)).tickSize(9).tickPadding(15));
styleAxis(rightAxis);

// x axis line at zero with tick marks
const tickDates = xTickDates.map(parse);
const zeroAxis = svg.append('g')
  .attr('transform', `translate(0,${yLeft(0)})`)
  .call(d3.axisBottom(x).tickValues(tickDates).tickFormat('').tickSize(8).tickSizeOuter(0));
styleAxis(zeroAxis);

// x labels at the bottom
const labelAxis = svg.append('g')
  .attr('transform', `translate(0,${plot.bottom})`)
  .call(d3.axisBottom(x).tickValues(tickDates).tickFormat(d3.timeFormat('%Y/%m/%d')).tickSize(0).tickPadding(27));
labelAxis.select('.domain').remove();
styleAxis(labelAxis);

function styleAxis(g) {
  g.select('.domain').attr('stroke', '#898989').attr('stroke-width', 2);
  g.selectAll('.tick line').attr('stroke', '#898989').attr('stroke-width', 2);
  g.selectAll('.tick text')
    .attr('font-size', 24)
    .attr('fill', textColor)
    .style('font-family', '"Noto Sans CJK SC", sans-serif');
}

function fitText(sel, width) {
  const len = sel.node().getComputedTextLength();
  if (Math.abs(len - width) / width > 0.01) {
    sel.attr('textLength', width).attr('lengthAdjust', 'spacingAndGlyphs');
  }
}

// spread lines (left axis)
const spreadLine = d3.line()
  .x(d => x(parse(d[0])))
  .y(d => yLeft(d[1]));

const seriesG = svg.append('g')
  .attr('fill', 'none')
  .attr('stroke-width', 4.5)
  .attr('stroke-linejoin', 'round')
  .attr('stroke-linecap', 'round');

seriesG.selectAll('path.spread')
  .data(spreadSeries)
  .join('path')
  .attr('class', 'spread')
  .attr('stroke', d => d.color)
  .attr('d', d => spreadLine(d.data));

// 30Y treasury yields (right axis)
const oldYieldLine = d3.line().x(d => x(parse(d[0]))).y(d => yRight(d[2]));
const newYieldLine = d3.line().x(d => x(parse(d[0]))).y(d => yRight(d[1]));

seriesG.append('path')
  .attr('stroke', oldYieldColor)
  .attr('stroke-linecap', 'butt')
  .attr('stroke-dasharray', '10,5')
  .attr('d', oldYieldLine(yieldRows));

seriesG.append('path')
  .attr('stroke', newYieldColor)
  .attr('d', newYieldLine(yieldRows));

// legend
const legendItems = spreadSeries.map(s => ({ name: s.name, color: s.color, dash: null }))
  .concat([
    { name: oldYieldName, color: oldYieldColor, dash: '11,5' },
    { name: newYieldName, color: newYieldColor, dash: null }
  ]);

const legend = svg.append('g')
  .selectAll('g')
  .data(legendItems)
  .join('g')
  .attr('transform', (d, i) => `translate(${206 + (i % 4) * 442},${108 + Math.floor(i / 4) * 50.2})`);

legend.append('line')
  .attr('x1', d => d.dash ? 0 : 3).attr('x2', d => d.dash ? 80 : 77)
  .attr('stroke', d => d.color)
  .attr('stroke-width', 6)
  .attr('stroke-linecap', d => d.dash ? 'butt' : 'round')
  .attr('stroke-dasharray', d => d.dash);

legend.append('text')
  .attr('x', 86)
  .attr('dy', '0.35em')
  .attr('font-size', 25)
  .attr('fill', textColor)
  .text(d => d.name);
</script>
</body>
</html>
